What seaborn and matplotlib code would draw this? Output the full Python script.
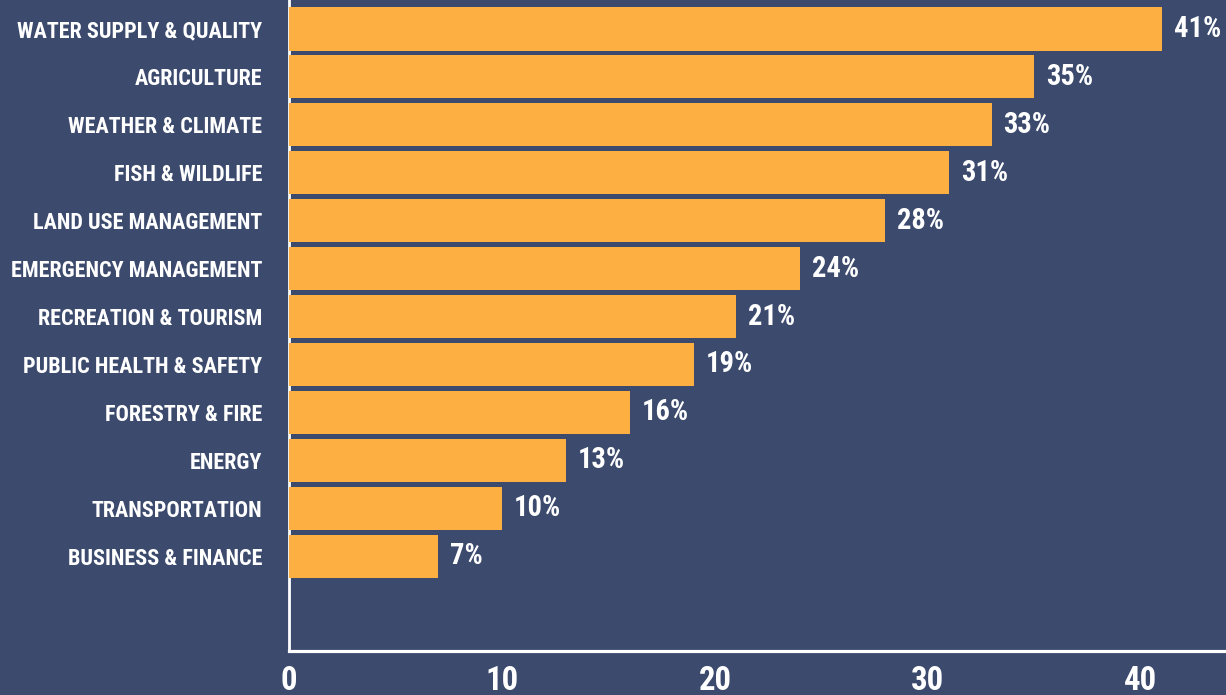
import matplotlib
matplotlib.use("Agg")
import matplotlib.pyplot as plt
from matplotlib import font_manager as fm
import seaborn as sns
import pandas as pd

categories = [
    "WATER SUPPLY & QUALITY", "AGRICULTURE", "WEATHER & CLIMATE", "FISH & WILDLIFE",
    "LAND USE MANAGEMENT", "EMERGENCY MANAGEMENT", "RECREATION & TOURISM",
    "PUBLIC HEALTH & SAFETY", "FORESTRY & FIRE", "ENERGY", "TRANSPORTATION",
    "BUSINESS & FINANCE",
]
values = [41, 35, 33, 31, 28, 24, 21, 19, 16, 13, 10, 7]
xticks = [0, 10, 20, 30, 40]

df = pd.DataFrame({"category": categories, "value": values})

BG = "#3b4a6d"
BAR = "#fdb041"

PREFS = ["liberationsansnarrow-bold", "robotocondensed-bold", "opensanscondensed-bold",
         "dejavusanscondensed-bold", "notosanscondensed-bold", "notosans-condensedbold"]


def find_condensed():
    files = [f.fname for f in fm.fontManager.ttflist]
    low = {p: p.lower().replace(" ", "").replace("_", "") for p in files}
    for pref in PREFS:
        for p, l in low.items():
            base = l.rsplit("/", 1)[-1]
            if base.startswith(pref) and "italic" not in base and "oblique" not in base:
                return p
    return None


cond_path = find_condensed()

sns.set_theme(style="white")
plt.rcParams["font.family"] = ["DejaVu Sans"]


def fp(size):
    if cond_path:
        return fm.FontProperties(fname=cond_path, size=size)
    return fm.FontProperties(family="DejaVu Sans", weight="bold", size=size)


fig = plt.figure(figsize=(12.26, 6.95), dpi=100)
fig.patch.set_facecolor(BG)
ax = fig.add_axes([289 / 1226, 44 / 695, 1 - 289 / 1226, 651 / 695])
ax.set_facecolor("none")

sns.barplot(data=df, x="value", y="category", orient="h", color=BAR,
            saturation=1, width=0.9, linewidth=0, ax=ax, zorder=3)

ax.set_xlim(0, 44.0)
ax.set_ylim(12.98, -0.605)
ax.set_xticks(xticks)
ax.set_xlabel("")
ax.set_ylabel("")

for s in ["top", "right"]:
    ax.spines[s].set_visible(False)
ax.spines["bottom"].set_color("white")
ax.spines["bottom"].set_linewidth(2.3)
ax.spines["left"].set_color("white")
ax.spines["left"].set_linewidth(2.0)

ax.tick_params(axis="x", direction="in", length=12.5, width=1.5, color="white",
               pad=10, labelcolor="white")
ax.tick_params(axis="y", length=0, pad=19, labelcolor="white")

renderer = fig.canvas.get_renderer()


def fit_size(text, target_px, start=20):
    t = fig.text(0, 0, text, fontproperties=fp(start))
    w = t.get_window_extent(renderer).width
    t.remove()
    return start * target_px / w


lab_size = min(fit_size("WATER SUPPLY & QUALITY", 245), 17)
val_size = min(fit_size("41%", 47), 24)
tick_size = min(fit_size("40", 30) * 1.1, 24)

for i, v in enumerate(values):
    ax.text(v + 0.55, i, f"{v}%", va="center", ha="left", color="white",
            fontproperties=fp(val_size))

for lab in ax.get_xticklabels():
    lab.set_fontproperties(fp(tick_size))
for lab in ax.get_yticklabels():
    lab.set_fontproperties(fp(lab_size))

fig.savefig("out.png", dpi=100, facecolor=BG)
